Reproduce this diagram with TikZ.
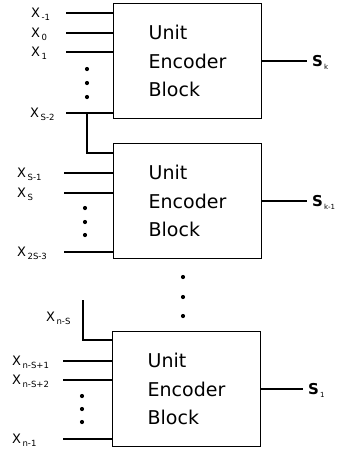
\documentclass[tikz,border=0pt]{standalone}
\usepackage{fontspec}
\setmainfont{DejaVu Sans}
\newcommand{\sbx}[1]{\kern1.5pt\raisebox{-3pt}{\fontsize{8.5}{8.5}\selectfont #1}}
\newcommand{\sbs}[1]{\kern1pt\raisebox{-3pt}{\fontsize{7}{7}\selectfont\mdseries #1}}

\begin{document}
\begin{tikzpicture}[x=1pt, y=-1pt,
    box/.style={draw, line width=1.4pt, minimum width=147.5pt, minimum height=115.5pt, align=left, font=\fontsize{19}{28.5}\selectfont},
    wire/.style={line width=1.3pt},
    inlbl/.style={anchor=base west, inner sep=0pt, font=\fontsize{13}{13}\selectfont},
    outlbl/.style={anchor=base west, inner ysep=0pt, inner xsep=5pt, font=\fontsize{15}{15}\selectfont\bfseries}
]
    \useasboundingbox (0,0) rectangle (353,451);

    % Blocks
    \node[box] (enc1) at (187.5,61) {Unit\\Encoder\\Block};
    \node[box] (enc2) at (187.5,201) {Unit\\Encoder\\Block};
    \node[box] (enc3) at (186.5,389) {Unit\\Encoder\\Block};

    % Input labels
    \node[inlbl] (xa) at (31,17.5) {X\sbx{-1}};
    \node[inlbl] (xb) at (31,37.5) {X\sbx{0}};
    \node[inlbl] (xc) at (31,56.5) {X\sbx{1}};
    \node[inlbl] (xd) at (30,117.5) {X\sbx{S-2}};
    \node[inlbl] (xe) at (17,177.5) {X\sbx{S-1}};
    \node[inlbl] (xf) at (17,197.5) {X\sbx{S}};
    \node[inlbl] (xg) at (17,256.5) {X\sbx{2S-3}};
    \node[inlbl] (xh) at (46,321.5) {X\sbx{n-S}};
    \node[inlbl] (xi) at (12,365.5) {X\sbx{n-S+1}};
    \node[inlbl] (xj) at (12,384.5) {X\sbx{n-S+2}};
    \node[inlbl] (xk) at (12,443.5) {X\sbx{n-1}};

    % Input lines
    \coordinate (ia) at (66,13);
    \coordinate (ib) at (66,33);
    \coordinate (ic) at (66,52);
    \coordinate (id) at (66,113);
    \coordinate (ie) at (64,173);
    \coordinate (if) at (64,193);
    \coordinate (ig) at (64,252);
    \coordinate (ii) at (63,361);
    \coordinate (ij) at (63,380);
    \coordinate (ik) at (63,439);
    \draw[wire] (ia) -- (ia -| enc1.west);
    \draw[wire] (ib) -- (ib -| enc1.west);
    \draw[wire] (ic) -- (ic -| enc1.west);
    \draw[wire] (id) -- (id -| enc1.west);
    \draw[wire] (ie) -- (ie -| enc2.west);
    \draw[wire] (if) -- (if -| enc2.west);
    \draw[wire] (ig) -- (ig -| enc2.west);
    \draw[wire] (ii) -- (ii -| enc3.west);
    \draw[wire] (ij) -- (ij -| enc3.west);
    \draw[wire] (ik) -- (ik -| enc3.west);

    % Carried inputs
    \coordinate (ja) at (87,113);
    \coordinate (jb) at (87,153);
    \draw[wire] (ja) -- (jb) -- (jb -| enc2.west);
    \coordinate (jc) at (83,300);
    \coordinate (jd) at (83,340);
    \draw[wire] (jc) -- (jd) -- (jd -| enc3.west);

    % Outputs
    \node[outlbl] (sk) at (307,66.5) {S\sbs{k}};
    \node[outlbl] (skm) at (307,206.5) {S\sbs{k-1}};
    \node[outlbl] (s1) at (303,394.5) {S\sbs{1}};
    \draw[wire] (enc1.east) -- (enc1.east -| sk.west);
    \draw[wire] (enc2.east) -- (enc2.east -| skm.west);
    \draw[wire] (enc3.east) -- (enc3.east -| s1.west);

    % Dots
    \foreach \p in {(87,69),(87,83),(87,97),(85,208),(85,222),(85,235),(82,396),(82,409),(82,422),(183,277),(183,297),(183,316)}
        \fill \p circle (2.1pt);
\end{tikzpicture}
\end{document}
